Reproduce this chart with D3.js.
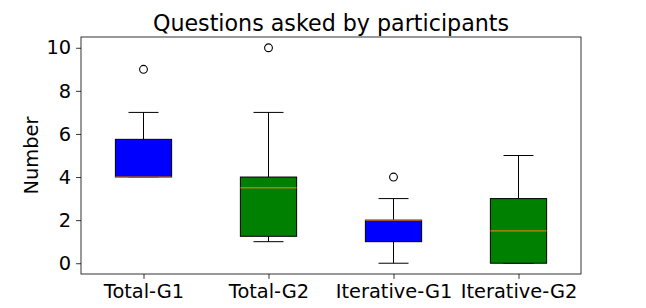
<!DOCTYPE html>
<html lang="en">
<head>
<meta charset="UTF-8">
<title>Questions asked by participants</title>
<style>
  body { margin: 0; background: #fff; }
  svg text { font-family: "DejaVu Sans", sans-serif; fill: #000; }
</style>
</head>
<body>
<div id="chart"></div>
<script src="https://d3js.org/d3.v7.min.js"></script>
<script>

// data
const categories = ['Total-G1', 'Total-G2', 'Iterative-G1', 'Iterative-G2'];
const q1        = [4, 1.25, 1, 0];
const medians   = [4, 3.5, 2, 1.5];
const q3        = [5.75, 4, 2, 3];
const whiskLo   = [4, 1, 0, 0];
const whiskHi   = [7, 7, 3, 5];
const outliers  = [[9], [10], [4], []];
const boxColors = ['blue', 'green', 'blue', 'green'];
const yTicks    = [0, 2, 4, 6, 8, 10];

let margin = { top: 37, right: 65, bottom: 34, left: 81 },
    width  = 646 - margin.left - margin.right,
    height = 308 - margin.top - margin.bottom;

let svg = d3.select('#chart')
            .append('svg')
            .attr('width', 646)
            .attr('height', 308)
            .append('g')
            .attr('transform', `translate(${margin.left}, ${margin.top})`);

let x = d3.scaleLinear().domain([0.5, 4.5]).range([0, width]);
let y = d3.scaleLinear().domain([-0.5, 10.5]).range([height, 0]);

let boxW = x(1.225) - x(1);   // half box width
let capW = x(1.12) - x(1);

let data = categories.map(function(c, i) {
  return { name: c, pos: i + 1, q1: q1[i], med: medians[i], q3: q3[i],
           lo: whiskLo[i], hi: whiskHi[i], out: outliers[i], color: boxColors[i] };
});

// axes
let axeY = d3.axisLeft(y).tickValues(yTicks).tickSize(4.9).tickPadding(4.9);
let gy = svg.append('g').call(axeY);
gy.select('.domain').remove();
gy.selectAll('line').attr('stroke', '#000').attr('stroke-width', 0.8);
gy.selectAll('text').style('font-size', '19.4px').attr('font-family', 'DejaVu Sans');

let axeX = d3.axisBottom(x).tickValues([1, 2, 3, 4])
             .tickFormat(function(d) { return categories[d - 1]; })
             .tickSize(4.9).tickPadding(4.9);
let gx = svg.append('g').attr('transform', `translate(0, ${height})`).call(axeX);
gx.select('.domain').remove();
gx.selectAll('line').attr('stroke', '#000').attr('stroke-width', 0.8);
gx.selectAll('text').style('font-size', '19.4px').attr('font-family', 'DejaVu Sans');

// boxes
let g = svg.selectAll('.box').data(data).enter().append('g').attr('class', 'box');

g.append('line')
 .attr('x1', d => x(d.pos)).attr('x2', d => x(d.pos))
 .attr('y1', d => y(d.q3)).attr('y2', d => y(d.hi))
 .attr('stroke', '#000').attr('stroke-width', 1);
g.append('line')
 .attr('x1', d => x(d.pos)).attr('x2', d => x(d.pos))
 .attr('y1', d => y(d.q1)).attr('y2', d => y(d.lo))
 .attr('stroke', '#000').attr('stroke-width', 1);
g.append('line')
 .attr('x1', d => x(d.pos) - capW).attr('x2', d => x(d.pos) + capW)
 .attr('y1', d => y(d.hi)).attr('y2', d => y(d.hi))
 .attr('stroke', '#000').attr('stroke-width', 1);
g.append('line')
 .attr('x1', d => x(d.pos) - capW).attr('x2', d => x(d.pos) + capW)
 .attr('y1', d => y(d.lo)).attr('y2', d => y(d.lo))
 .attr('stroke', '#000').attr('stroke-width', 1);

g.append('rect')
 .attr('x', d => x(d.pos) - boxW)
 .attr('width', 2 * boxW)
 .attr('y', d => y(d.q3))
 .attr('height', d => y(d.q1) - y(d.q3))
 .attr('fill', d => d.color)
 .attr('stroke', '#000').attr('stroke-width', 1);

g.append('line')
 .attr('x1', d => x(d.pos) - boxW).attr('x2', d => x(d.pos) + boxW)
 .attr('y1', d => y(d.med)).attr('y2', d => y(d.med))
 .attr('stroke', '#ff7f0e').attr('stroke-width', 1);

g.selectAll('circle').data(d => d.out.map(v => ({ pos: d.pos, v: v })))
 .enter().append('circle')
 .attr('cx', d => x(d.pos)).attr('cy', d => y(d.v)).attr('r', 3.9)
 .attr('fill', 'none').attr('stroke', '#000').attr('stroke-width', 1.1);

// frame
svg.append('rect')
   .attr('width', width).attr('height', height)
   .attr('fill', 'none').attr('stroke', '#000').attr('stroke-width', 0.8);

// title and label
svg.append('text')
   .attr('x', width / 2).attr('y', -6)
   .attr('text-anchor', 'middle')
   .style('font-size', '22.2px')
   .text('Questions asked by participants');

svg.append('text')
   .attr('transform', `translate(${-43}, ${height / 2}) rotate(-90)`)
   .attr('text-anchor', 'middle')
   .style('font-size', '19.4px')
   .text('Number');

</script>
</body>
</html>
